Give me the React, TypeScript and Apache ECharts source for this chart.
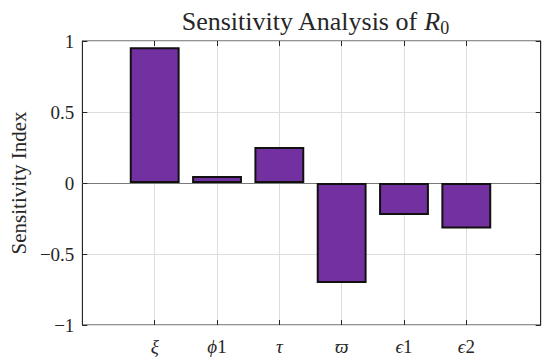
import React, { useEffect, useRef } from "react";
import * as echarts from "echarts";

const categories = ["ξ", "ϕ1", "τ", "ϖ", "ϵ1", "ϵ2"];
const sensitivity = [0.956, 0.05, 0.254, -0.704, -0.225, -0.32];
const yTicks = { min: -1, max: 1, interval: 0.5 };

const FONT = "Liberation Serif";

function fmtCat(s: string): string {
  const m = s.match(/^(\D+)(\d*)$/);
  if (!m) return s;
  return `{g|${m[1]}}` + (m[2] ? `{d|${m[2]}}` : "");
}

export default function App() {
  const ref = useRef<HTMLDivElement>(null);
  useEffect(() => {
    if (!ref.current) return;
    const chart = echarts.init(ref.current, undefined, { renderer: "svg" });
    const gridPos = { top: 41, height: 284 };
    const frameLeft = 79.5;
    const frameRight = 540.7;
    const catFirst = 154.7;
    const catLast = 466.3;
    chart.setOption({
      animation: false,
      backgroundColor: "#ffffff",
      title: {
        text: "{a|Sensitivity Analysis of }{b|R}{c|0}",
        left: (frameLeft + frameRight) / 2,
        textAlign: "center",
        top: 3,
        textStyle: {
          fontWeight: "normal",
          rich: {
            a: { fontFamily: FONT, fontSize: 26, fontWeight: "normal", color: "#262626", verticalAlign: "bottom" },
            b: { fontFamily: FONT, fontSize: 26, fontWeight: "normal", fontStyle: "italic", color: "#262626", verticalAlign: "bottom" },
            c: { fontFamily: FONT, fontSize: 18, fontWeight: "normal", color: "#262626", verticalAlign: "bottom", padding: [0, 0, -3, 0] },
          },
        },
      },
      grid: [
        {
          left: frameLeft,
          width: frameRight - frameLeft,
          ...gridPos,
          show: true,
          borderColor: "#262626",
          borderWidth: 1,
          backgroundColor: "transparent",
        },
        {
          left: catFirst,
          width: catLast - catFirst,
          ...gridPos,
        },
      ],
      xAxis: [
        {
          gridIndex: 0,
          type: "value",
          min: 0,
          max: 1,
          axisLine: { show: true, onZero: true, lineStyle: { color: "#7a7a7a", width: 1 } },
          axisTick: { show: false },
          axisLabel: { show: false },
          splitLine: { show: false },
        },
        {
          gridIndex: 1,
          type: "category",
          data: categories,
          boundaryGap: false,
          position: "bottom",
          axisLine: { show: false, onZero: false },
          axisTick: { show: true, interval: 0, inside: true, length: 5, lineStyle: { color: "#262626" } },
          axisLabel: {
            interval: 0,
            margin: 12,
            formatter: (v: string) => fmtCat(v),
            rich: {
              g: { fontFamily: FONT, fontSize: 19, fontStyle: "italic", color: "#262626" },
              d: { fontFamily: FONT, fontSize: 19, color: "#262626" },
            },
          },
          splitLine: { show: true, interval: 0, lineStyle: { color: "#dedede", width: 1 } },
        },
        {
          gridIndex: 1,
          type: "category",
          data: categories,
          boundaryGap: false,
          position: "top",
          axisLine: { show: false, onZero: false },
          axisTick: { show: true, interval: 0, inside: true, length: 5, lineStyle: { color: "#262626" } },
          axisLabel: { show: false },
          splitLine: { show: false },
        },
      ],
      yAxis: [
        {
          gridIndex: 0,
          type: "value",
          ...yTicks,
          name: "Sensitivity Index",
          nameLocation: "middle",
          nameGap: 45,
          nameTextStyle: { fontFamily: FONT, fontSize: 21, color: "#262626" },
          axisLine: { show: true, lineStyle: { color: "#262626" } },
          axisTick: { show: true, inside: true, length: 5, lineStyle: { color: "#262626" } },
          axisLabel: {
            fontFamily: FONT,
            fontSize: 19,
            color: "#262626",
            margin: 8,
            formatter: (v: number) => (v < 0 ? "\u2212" + String(-v) : String(v)),
          },
          splitLine: { show: true, lineStyle: { color: "#dedede", width: 1 } },
        },
        {
          gridIndex: 0,
          type: "value",
          ...yTicks,
          position: "right",
          axisLine: { show: true, lineStyle: { color: "#262626" } },
          axisTick: { show: true, inside: true, length: 5, lineStyle: { color: "#262626" } },
          axisLabel: { show: false },
          splitLine: { show: false },
        },
        {
          gridIndex: 1,
          type: "value",
          ...yTicks,
          show: false,
          splitLine: { show: false },
        },
      ],
      series: [
        {
          type: "bar",
          xAxisIndex: 1,
          yAxisIndex: 2,
          data: sensitivity,
          barWidth: "80%",
          clip: false,
          itemStyle: { color: "#7330a0", borderColor: "#111111", borderWidth: 2 },
          z: 5,
        },
      ],
    });
    return () => chart.dispose();
  }, []);
  return <div ref={ref} style={{ width: 550, height: 361, position: "absolute", left: 0, top: 0 }} />;
}
